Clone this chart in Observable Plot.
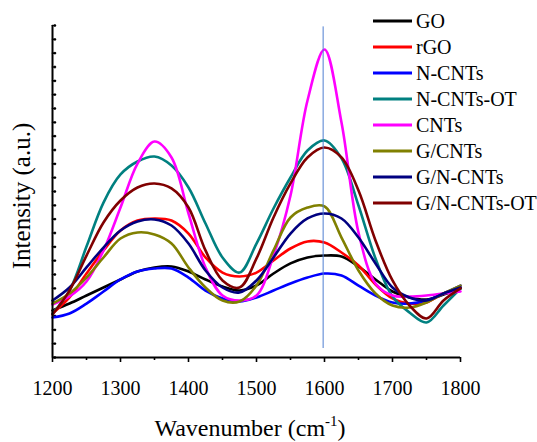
<!DOCTYPE html>
<html>
<head>
<meta charset="utf-8">
<script src="https://cdn.jsdelivr.net/npm/d3@7"></script>
<script src="https://cdn.jsdelivr.net/npm/@observablehq/plot@0.6"></script>
</head>
<body style="margin:0;background:#fff;font-family:'Liberation Serif'">
<div id="chart" style="position:relative;width:537px;height:442px;font-family:'Liberation Serif'"><div id="legend" style="position:absolute;left:373px;top:8px;font-family:'Liberation Serif'"></div></div>
<script>
// Raman spectra, intensity in arbitrary units
const wavenumbers = [1200, 1225, 1250, 1275, 1300, 1325, 1350, 1375, 1400, 1425, 1450, 1475, 1500,
                     1525, 1550, 1575, 1600, 1625, 1650, 1675, 1700, 1725, 1750, 1775, 1800];

const GO        = [3.40, 3.90, 4.48, 5.06, 5.64, 6.22, 6.51, 6.58, 6.22, 5.64, 5.13, 4.84, 5.21,
                   6.07, 6.80, 7.23, 7.37, 7.30, 6.58, 5.64, 4.77, 4.34, 4.19, 4.55, 4.99];
const rGO       = [3.18, 4.34, 6.07, 7.74, 9.18, 9.90, 10.05, 9.90, 8.96, 7.23, 6.14, 5.86, 6.14,
                   7.01, 7.88, 8.39, 8.31, 7.59, 6.65, 5.28, 4.27, 3.90, 3.98, 4.63, 5.06];
const NCNTs     = [2.89, 3.18, 3.90, 4.77, 5.64, 6.22, 6.43, 6.43, 5.78, 4.84, 4.27, 4.05, 4.34,
                   4.84, 5.35, 5.78, 6.07, 5.93, 5.20, 4.48, 3.98, 3.90, 4.12, 4.63, 5.20];
const NCNTsOT   = [3.18, 4.84, 8.02, 11.20, 13.23, 14.17, 14.53, 13.88, 12.29, 9.69, 7.23, 6.14, 8.24,
                   10.77, 13.01, 14.96, 15.69, 14.39, 10.99, 7.16, 4.41, 3.25, 2.53, 3.76, 4.99];
const CNTs      = [3.83, 4.41, 5.49, 7.74, 10.84, 14.02, 15.61, 14.46, 10.41, 6.51, 4.48, 4.12, 4.48,
                   7.37, 11.71, 18.58, 22.27, 16.99, 9.04, 5.35, 4.48, 4.41, 4.48, 4.63, 4.77];
const GCNTs     = [3.90, 4.63, 5.78, 7.23, 8.60, 9.04, 8.89, 8.24, 6.51, 5.06, 4.12, 4.05, 5.21,
                   7.74, 10.12, 10.84, 10.92, 8.67, 6.29, 4.63, 3.76, 3.61, 3.98, 4.63, 5.20];
const GNCNTs    = [4.12, 5.06, 6.51, 7.95, 9.18, 9.83, 9.98, 9.54, 8.24, 6.29, 5.06, 4.70, 5.57,
                   7.23, 8.96, 10.05, 10.41, 10.05, 8.67, 6.80, 5.06, 4.34, 4.12, 4.63, 5.06];
const GNCNTsOT  = [3.11, 4.84, 7.37, 9.76, 11.35, 12.29, 12.58, 12.22, 10.84, 7.74, 5.57, 5.06, 7.16,
                   10.12, 12.58, 14.46, 15.18, 14.46, 12.07, 8.46, 5.57, 3.76, 2.82, 4.12, 4.99];

const seriesNames = ["GO", "rGO", "N-CNTs", "N-CNTs-OT", "CNTs", "G/CNTs", "G/N-CNTs", "G/N-CNTs-OT"];
const seriesValues = [GO, rGO, NCNTs, NCNTsOT, CNTs, GCNTs, GNCNTs, GNCNTsOT];
const seriesColors = ["#000000", "#ff0000", "#0000ff", "#008080", "#ff00ff", "#808000", "#000080", "#800000"];

// G-band reference position
const gBand = [{x: 1598, y1: 0.65, y2: 23.9}];

const xMajorTicks = [1200, 1300, 1400, 1500, 1600, 1700, 1800];
const xMinorTicks = [1250, 1350, 1450, 1550, 1650, 1750];
const yTicks = d3.range(0, 25);

const rows = [];
seriesNames.forEach((name, k) => {
  seriesValues[k].forEach((v, i) => rows.push({name, w: wavenumbers[i], v}));
});

const plot = Plot.plot({
  width: 537,
  height: 442,
  marginLeft: 52,
  marginRight: 77,
  marginTop: 25,
  marginBottom: 85,
  style: {fontFamily: "'Liberation Serif'", fontSize: "20px", color: "#000", background: "#fff", overflow: "visible"},
  x: {domain: [1200, 1800]},
  y: {domain: [0, 24], axis: null},
  color: {domain: seriesNames, range: seriesColors},
  marks: [
    Plot.axisX({ticks: xMajorTicks, tickSize: 5, tickPadding: 18, strokeWidth: 1.6, label: null, tickFormat: d => String(d), fontSize: 20}),
    Plot.axisX({ticks: xMinorTicks, tickSize: 3, strokeWidth: 1.6, text: null, label: null}),
    Plot.vector(yTicks, {y: d => d, frameAnchor: "left", length: 3, rotate: 90, anchor: "start", stroke: "#000", strokeWidth: 1.6}),
    Plot.line(rows, {x: "w", y: "v", z: "name", stroke: "name", strokeWidth: 2.6, curve: "catmull-rom"}),
    Plot.ruleX(gBand, {x: "x", y1: "y1", y2: "y2", stroke: "#4f7fd1", strokeWidth: 1}),
    Plot.ruleX([1200], {stroke: "#000", strokeWidth: 2}),
    Plot.ruleY([0], {stroke: "#000", strokeWidth: 2})
  ]
});

const svg = d3.select(plot);

const xTitle = svg.append("text")
  .attr("x", 250).attr("y", 436)
  .attr("text-anchor", "middle")
  .attr("font-size", 24)
  .attr("fill", "#000");
xTitle.append("tspan").text("Wavenumber (cm");
xTitle.append("tspan").attr("dy", -10).attr("font-size", 15).text("-1");
xTitle.append("tspan").attr("dy", 10).text(")");

svg.append("text")
  .attr("transform", "translate(30,196) rotate(-90)")
  .attr("text-anchor", "middle")
  .attr("font-size", 25)
  .attr("fill", "#000")
  .text("Intensity (a.u.)");

// serif face on every label in the figure
svg.selectAll("text").attr("font-family", "Liberation Serif").style("font-family", "Liberation Serif");

const chart = document.getElementById("chart");
chart.insertBefore(plot, chart.firstChild);

// Legend
const legend = document.getElementById("legend");
seriesNames.forEach((name, k) => {
  const row = document.createElement("div");
  row.style.display = "flex";
  row.style.alignItems = "center";
  row.style.height = "26px";
  const sw = d3.create("svg").attr("width", 39).attr("height", 6).style("display", "block");
  sw.append("line").attr("x1", 0).attr("x2", 39).attr("y1", 3).attr("y2", 3)
    .attr("stroke", seriesColors[k]).attr("stroke-width", 3);
  row.append(sw.node());
  const label = document.createElement("span");
  label.style.fontFamily = "Liberation Serif";
  label.style.fontSize = "20px";
  label.style.marginLeft = "4px";
  label.style.lineHeight = "1";
  label.style.color = "#000";
  label.textContent = name;
  row.append(label);
  legend.append(row);
});
</script>
</body>
</html>
